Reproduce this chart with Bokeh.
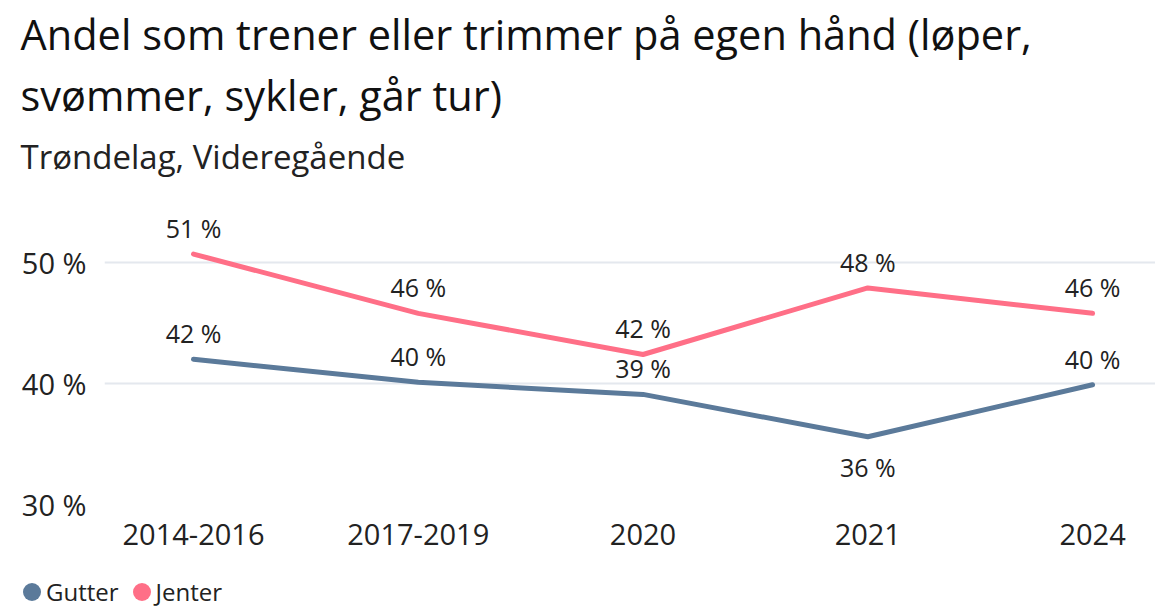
from bokeh.plotting import figure
from bokeh.models import ColumnDataSource, Range1d, FixedTicker, Title, CustomJSTickFormatter, Div
from bokeh.layouts import column
from bokeh.core.properties import value
from bokeh.embed import file_html
from bokeh.resources import INLINE

categories = ["2014-2016", "2017-2019", "2020", "2021", "2024"]
series_names = ["Gutter", "Jenter"]
gutter = [42.0, 40.1, 39.1, 35.6, 39.9]
jenter = [50.7, 45.8, 42.4, 47.9, 45.8]
gutter_label_below = [False, False, False, True, False]
y_ticks = [30, 40, 50]

GUT_COLOR = "#5b7a9a"
JEN_COLOR = "#ff6f87"
FONT = "Open Sans"
TXT = "#222222"

xs = list(range(len(categories)))

p = figure(frame_width=1051, frame_height=316, output_backend="svg", toolbar_location=None,
           x_range=Range1d(-0.396, 4.28), y_range=Range1d(30, 56.12),
           min_border_left=104, min_border_right=0, min_border_top=0, min_border_bottom=66)
p.outline_line_color = None
p.background_fill_color = "white"
p.border_fill_color = "white"

# Titles
p.title = Title(text="Andel som trener eller trimmer på egen hånd (løper,",
                text_font=FONT, text_font_size="41.5px", text_font_style="normal",
                text_color="#111111", offset=-84, standoff=6)
t2 = Title(text="svømmer, sykler, går tur)", text_font=FONT, text_font_size="41.5px",
           text_font_style="normal", text_color="#111111", offset=-84, standoff=0)
t3 = Title(text="Trøndelag, Videregående", text_font=FONT, text_font_size="33px",
           text_font_style="normal", text_color="#222222", offset=-84, standoff=19)
p.add_layout(t3, "above")
p.add_layout(t2, "above")

# Axes
p.xaxis.ticker = FixedTicker(ticks=xs)
p.xaxis.major_label_overrides = {i: c for i, c in enumerate(categories)}
p.xaxis.axis_line_color = None
p.xaxis.major_tick_line_color = None
p.xaxis.minor_tick_line_color = None
p.xaxis.major_tick_out = 0
p.xaxis.major_tick_in = 0
p.xaxis.major_label_text_font = FONT
p.xaxis.major_label_text_font_size = "29px"
p.xaxis.major_label_text_color = TXT
p.xaxis.major_label_standoff = 19

p.yaxis.ticker = FixedTicker(ticks=y_ticks)
p.yaxis.formatter = CustomJSTickFormatter(code="return tick + ' %';")
p.yaxis.axis_line_color = None
p.yaxis.major_tick_line_color = None
p.yaxis.minor_tick_line_color = None
p.yaxis.major_tick_out = 0
p.yaxis.major_tick_in = 0
p.yaxis.major_label_text_font = FONT
p.yaxis.major_label_text_font_size = "29px"
p.yaxis.major_label_text_color = TXT
p.yaxis.major_label_standoff = 18

p.xgrid.grid_line_color = None
p.ygrid.grid_line_color = "#e4e8ee"
p.ygrid.grid_line_width = 2

# Lines
p.line(xs, gutter, line_color=GUT_COLOR, line_width=5, line_cap="round", line_join="round")
p.line(xs, jenter, line_color=JEN_COLOR, line_width=5, line_cap="round", line_join="round")

# Data labels
def labels(vals, below):
    return ColumnDataSource(dict(
        x=xs, y=vals,
        t=[f"{round(v)} %" for v in vals],
        off=[30 if b else -26 for b in below],
    ))

p.text(x="x", y="y", text="t", y_offset="off", source=labels(gutter, gutter_label_below),
       text_font=value(FONT), text_font_size="25px", text_color=TXT,
       text_align="center", text_baseline="middle")
p.text(x="x", y="y", text="t", y_offset="off", source=labels(jenter, [False] * 5),
       text_font=value(FONT), text_font_size="25px", text_color=TXT,
       text_align="center", text_baseline="middle")

# Legend strip (HTML text, left aligned under the chart)
items = []
for i, (name, col) in enumerate(zip(series_names, [GUT_COLOR, JEN_COLOR])):
    ml = "0px" if i == 0 else "14px"
    items.append(
        f'<span style="display:inline-block;width:18px;height:18px;border-radius:50%;'
        f'background:{col};margin-left:{ml};margin-right:5px;"></span>'
        f'<span>{name}</span>'
    )
legend_html = (
    f'<div style="display:flex;align-items:center;height:43px;padding-left:23px;'
    f'font-family:\'{FONT}\';font-size:24px;color:{TXT};line-height:1;">'
    + "".join(items) + "</div>"
)
legend_div = Div(text=legend_html, width=1155, height=43, margin=0)

layout = column(p, legend_div, spacing=0)
open("out.html", "w").write(file_html(layout, INLINE))
